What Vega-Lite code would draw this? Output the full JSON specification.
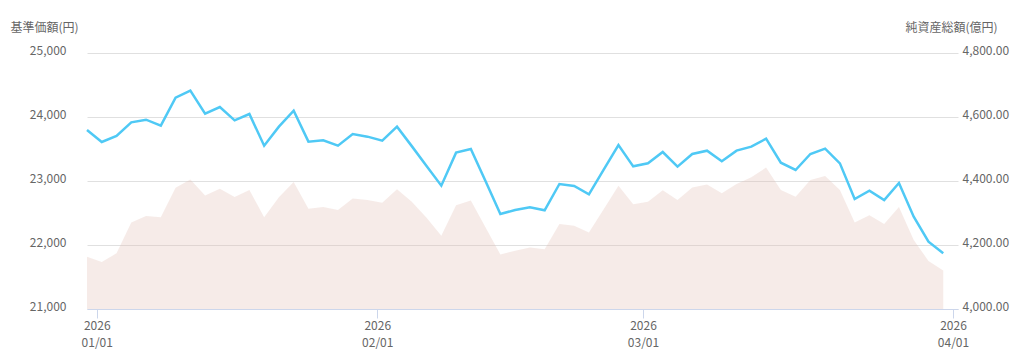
{
  "$schema": "https://vega.github.io/schema/vega-lite/v6.json",
  "width": 871,
  "height": 256,
  "autosize": {"type": "none"},
  "padding": {"left": 87, "top": 53, "right": 66, "bottom": 44},
  "config": {
    "view": {"stroke": null},
    "font": "Noto Sans CJK JP",
    "axis": {"labelColor": "#666666", "labelFontSize": 12, "titleColor": "#666666", "titleFontSize": 12, "titleFontWeight": "normal", "labelFont": "Noto Sans CJK JP", "titleFont": "Noto Sans CJK JP"}
  },
  "data": {"values": [
    {"date": "2025-12-30", "nav": 23797, "assets": 4163},
    {"date": "2026-01-05", "nav": 23609, "assets": 4147},
    {"date": "2026-01-06", "nav": 23703, "assets": 4174},
    {"date": "2026-01-07", "nav": 23917, "assets": 4270},
    {"date": "2026-01-08", "nav": 23958, "assets": 4291},
    {"date": "2026-01-09", "nav": 23864, "assets": 4287},
    {"date": "2026-01-13", "nav": 24302, "assets": 4379},
    {"date": "2026-01-14", "nav": 24411, "assets": 4405},
    {"date": "2026-01-15", "nav": 24052, "assets": 4355},
    {"date": "2026-01-16", "nav": 24156, "assets": 4376},
    {"date": "2026-01-19", "nav": 23948, "assets": 4350},
    {"date": "2026-01-20", "nav": 24047, "assets": 4372},
    {"date": "2026-01-21", "nav": 23552, "assets": 4287},
    {"date": "2026-01-22", "nav": 23849, "assets": 4349},
    {"date": "2026-01-23", "nav": 24099, "assets": 4397},
    {"date": "2026-01-26", "nav": 23615, "assets": 4313},
    {"date": "2026-01-27", "nav": 23636, "assets": 4319},
    {"date": "2026-01-28", "nav": 23552, "assets": 4309},
    {"date": "2026-01-29", "nav": 23734, "assets": 4345},
    {"date": "2026-01-30", "nav": 23693, "assets": 4341},
    {"date": "2026-02-02", "nav": 23630, "assets": 4332},
    {"date": "2026-02-03", "nav": 23849, "assets": 4374},
    {"date": "2026-02-04", "nav": 23545, "assets": 4335},
    {"date": "2026-02-05", "nav": 23235, "assets": 4285},
    {"date": "2026-02-06", "nav": 22927, "assets": 4229},
    {"date": "2026-02-09", "nav": 23443, "assets": 4324},
    {"date": "2026-02-10", "nav": 23500, "assets": 4339},
    {"date": "2026-02-12", "nav": 22997, "assets": 4255},
    {"date": "2026-02-13", "nav": 22484, "assets": 4170},
    {"date": "2026-02-16", "nav": 22547, "assets": 4182},
    {"date": "2026-02-17", "nav": 22589, "assets": 4192},
    {"date": "2026-02-18", "nav": 22542, "assets": 4187},
    {"date": "2026-02-19", "nav": 22953, "assets": 4266},
    {"date": "2026-02-20", "nav": 22922, "assets": 4260},
    {"date": "2026-02-24", "nav": 22792, "assets": 4239},
    {"date": "2026-02-25", "nav": 23177, "assets": 4312},
    {"date": "2026-02-26", "nav": 23562, "assets": 4385},
    {"date": "2026-02-27", "nav": 23229, "assets": 4327},
    {"date": "2026-03-02", "nav": 23276, "assets": 4335},
    {"date": "2026-03-03", "nav": 23453, "assets": 4371},
    {"date": "2026-03-04", "nav": 23224, "assets": 4341},
    {"date": "2026-03-05", "nav": 23422, "assets": 4380},
    {"date": "2026-03-06", "nav": 23474, "assets": 4389},
    {"date": "2026-03-09", "nav": 23308, "assets": 4362},
    {"date": "2026-03-10", "nav": 23474, "assets": 4391},
    {"date": "2026-03-11", "nav": 23536, "assets": 4412},
    {"date": "2026-03-12", "nav": 23661, "assets": 4442},
    {"date": "2026-03-13", "nav": 23286, "assets": 4372},
    {"date": "2026-03-16", "nav": 23172, "assets": 4351},
    {"date": "2026-03-17", "nav": 23422, "assets": 4403},
    {"date": "2026-03-18", "nav": 23505, "assets": 4416},
    {"date": "2026-03-19", "nav": 23276, "assets": 4372},
    {"date": "2026-03-23", "nav": 22719, "assets": 4270},
    {"date": "2026-03-24", "nav": 22849, "assets": 4293},
    {"date": "2026-03-25", "nav": 22703, "assets": 4266},
    {"date": "2026-03-26", "nav": 22969, "assets": 4319},
    {"date": "2026-03-27", "nav": 22443, "assets": 4216},
    {"date": "2026-03-30", "nav": 22052, "assets": 4150},
    {"date": "2026-03-31", "nav": 21870, "assets": 4120}
  ]},
  "encoding": {
    "x": {
      "field": "date",
      "type": "ordinal",
      "sort": "ascending",
      "scale": {"type": "point", "padding": 0, "domain": {"unionWith": ["2026-04-01"]}},
      "axis": {
        "title": null,
        "values": ["2026-01-05", "2026-02-02", "2026-03-02", "2026-04-01"],
        "labelExpr": "['2026', substring(datum.value, 5, 7) + '/01']",
        "labelAngle": 0,
        "labelAlign": "center",
        "labelPadding": 2,
        "labelLineHeight": 17,
        "tickColor": "#ccd6eb",
        "tickSize": 9,
        "tickOffset": -5,
        "domainColor": "#ccd6eb",
        "grid": false
      }
    }
  },
  "layer": [
    {
      "mark": {"type": "area", "color": "#e0bdb3", "fillOpacity": 0.3},
      "encoding": {
        "y": {
          "field": "assets",
          "type": "quantitative",
          "scale": {"domain": [4000, 4800], "zero": false},
          "axis": {
            "orient": "right",
            "title": "純資産総額(億円)",
            "titleAngle": 0,
            "titleAlign": "right",
            "titleBaseline": "middle",
            "titleX": 39,
            "titleY": -26,
            "values": [4000, 4200, 4400, 4600, 4800],
            "format": ",.2f",
            "domain": false,
            "ticks": false,
            "tickSize": 0,
            "labelPadding": 4,
            "labelOffset": -3,
            "grid": false
          }
        },
        "y2": {"datum": 4000}
      }
    },
    {
      "mark": {"type": "line", "color": "#4fc9f5", "strokeWidth": 2.5},
      "encoding": {
        "y": {
          "field": "nav",
          "type": "quantitative",
          "scale": {"domain": [21000, 25000], "zero": false},
          "axis": {
            "orient": "left",
            "title": "基準価額(円)",
            "titleAngle": 0,
            "titleAlign": "left",
            "titleBaseline": "middle",
            "titleX": -77,
            "titleY": -26,
            "values": [21000, 22000, 23000, 24000, 25000],
            "format": ",.0f",
            "domain": false,
            "ticks": false,
            "tickSize": 0,
            "labelPadding": 21,
            "labelOffset": -3,
            "grid": true,
            "gridColor": "#e0e0e0"
          }
        }
      }
    }
  ],
  "resolve": {"scale": {"y": "independent"}}
}
